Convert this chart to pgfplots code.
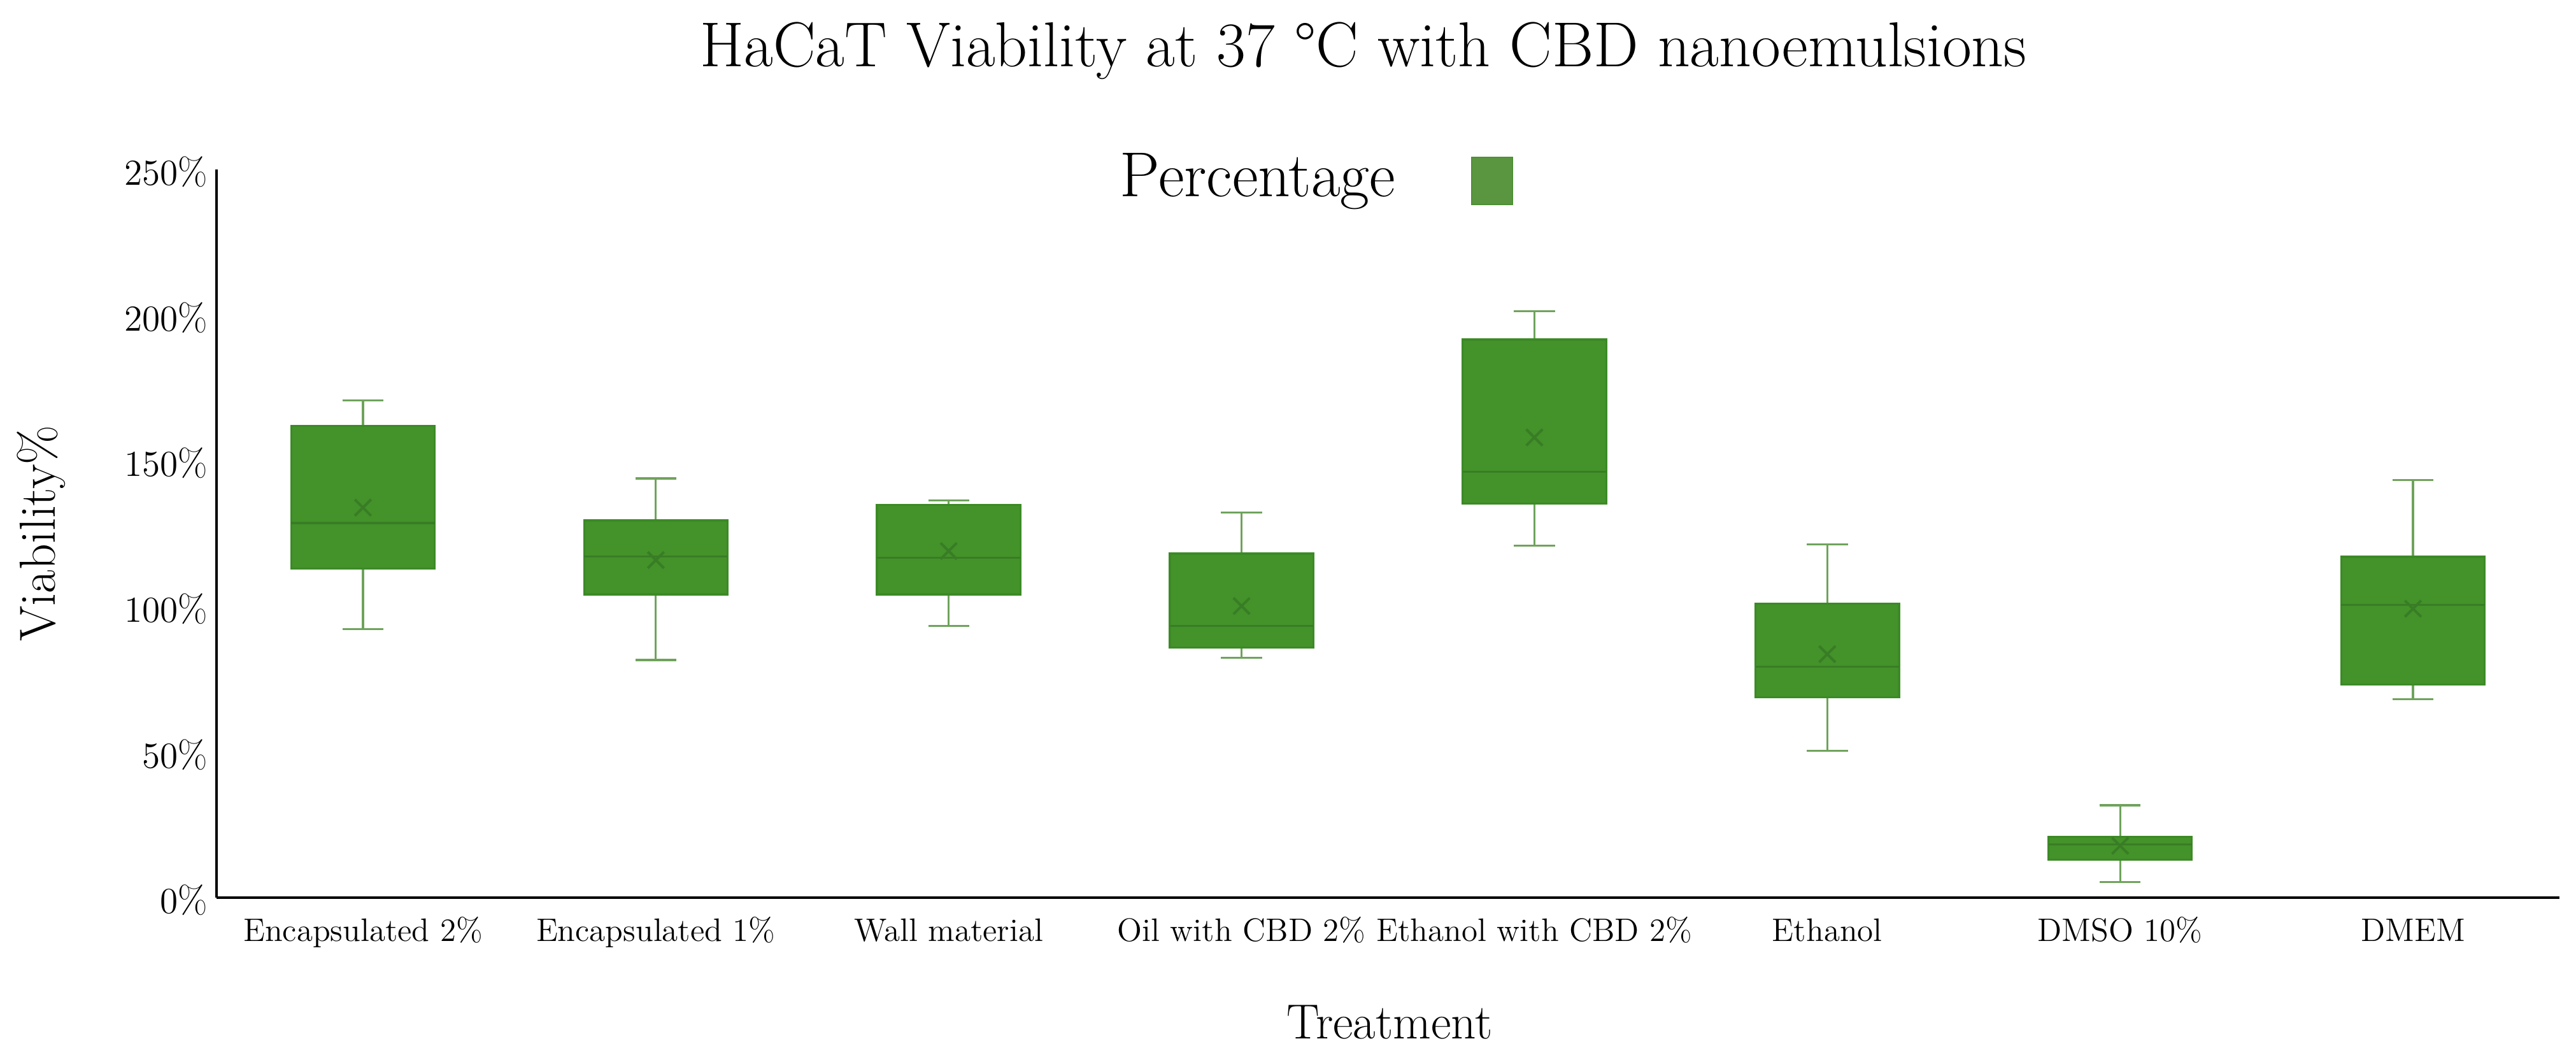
\documentclass[border=0pt]{standalone}
\usepackage{pgfplots}
\pgfplotsset{compat=1.18}
\usepgfplotslibrary{statistics}
\definecolor{boxfill}{HTML}{44922A}
\definecolor{boxedge}{HTML}{3C8A26}
\definecolor{whisk}{HTML}{6FA35C}
\definecolor{medc}{HTML}{387D25}
\definecolor{legfill}{HTML}{5A9640}
\definecolor{legedge}{HTML}{4E9035}
\begin{document}
\begin{tikzpicture}[x=1bp,y=1bp]
\begin{axis}[
  at={(0bp,0bp)}, anchor=south west,
  scale only axis, width=919.75bp, height=285.75bp,
  xmin=-0.5, xmax=7.5, ymin=0, ymax=250,
  axis x line*=bottom, axis y line*=left,
  axis line style={line width=1.1bp, black},
  major tick length=0pt,
  ytick={0,50,100,150,200,250},
  yticklabel={\pgfmathprintnumber{\tick}\%},
  yticklabel style={font=\fontsize{15}{18}\selectfont, yshift=-1bp},
  xtick={0,1,2,3,4,5,6,7},
  xticklabels={Encapsulated 2\%, Encapsulated 1\%, Wall material, Oil with CBD 2\%, Ethanol with CBD 2\%, Ethanol, DMSO 10\%, DMEM},
  xticklabel style={font=\fontsize{12.8}{15}\selectfont, anchor=base, yshift=-17bp},
  boxplot/draw direction=y,
  boxplot/box extend=0.49,
  boxplot/whisker extend=0.14,
  boxplot/every box/.style={fill=boxfill, draw=boxedge, line width=0.8bp},
  boxplot/every whisker/.style={draw=whisk, line width=0.8bp},
  boxplot/every median/.style={draw=medc, line width=0.8bp},
  legend plot pos=right,
  legend style={draw=none, fill=none, inner sep=0pt, at={(axis description cs:0.3833,0.99)}, anchor=west, font=\fontsize{25}{30}\selectfont},
  legend image code/.code={\path[draw=none, fill=none] (0bp,0bp) rectangle (44bp,0bp);\fill[legfill, draw=legedge, line width=0.5bp] (28bp,-11bp) rectangle (44bp,7.5bp);},
]
\addlegendimage{legfill}
\addlegendentry{Percentage}

\addplot[boxedge, forget plot, boxplot prepared={draw position=0, lower whisker=92.2, lower quartile=113.0, median=128.6, upper quartile=162.0, upper whisker=170.7}] coordinates {};
\addplot[boxedge, forget plot, boxplot prepared={draw position=1, lower whisker=81.6, lower quartile=104.1, median=117.2, upper quartile=129.5, upper whisker=143.9}] coordinates {};
\addplot[boxedge, forget plot, boxplot prepared={draw position=2, lower whisker=93.3, lower quartile=104.1, median=116.7, upper quartile=134.8, upper whisker=136.4}] coordinates {};
\addplot[boxedge, forget plot, boxplot prepared={draw position=3, lower whisker=82.4, lower quartile=85.8, median=93.3, upper quartile=118.1, upper whisker=132.3}] coordinates {};
\addplot[boxedge, forget plot, boxplot prepared={draw position=4, lower whisker=120.8, lower quartile=135.3, median=146.2, upper quartile=191.6, upper whisker=201.4}] coordinates {};
\addplot[boxedge, forget plot, boxplot prepared={draw position=5, lower whisker=50.4, lower quartile=68.8, median=79.3, upper quartile=100.9, upper whisker=121.2}] coordinates {};
\addplot[boxedge, forget plot, boxplot prepared={draw position=6, lower whisker=5.4, lower quartile=13.1, median=18.3, upper quartile=20.9, upper whisker=31.7}] coordinates {};
\addplot[boxedge, forget plot, boxplot prepared={draw position=7, lower whisker=68.2, lower quartile=73.1, median=100.5, upper quartile=117.0, upper whisker=143.3}] coordinates {};

\addplot[only marks, forget plot, mark=x, mark size=4.5bp, mark options={draw=medc, line width=1bp}] coordinates {
(0,133.9) (1,115.9) (2,119.0) (3,100.1) (4,158.0) (5,83.6) (6,17.8) (7,99.2)};
\end{axis}
\node[anchor=base, font=\fontsize{25}{30}\selectfont] at (450.25bp,326bp) {HaCaT Viability at 37 \textdegree C with CBD nanoemulsions};
\node[anchor=base, font=\fontsize{19.4}{23}\selectfont] at (460.5bp,-55.25bp) {Treatment};
\node[anchor=base, rotate=90, font=\fontsize{20}{24}\selectfont] at (-63.25bp,143bp) {Viability\%};
\pgfresetboundingbox
\path[use as bounding box] (-85bp,-61.75bp) rectangle (926.25bp,352.25bp);
\end{tikzpicture}
\end{document}
